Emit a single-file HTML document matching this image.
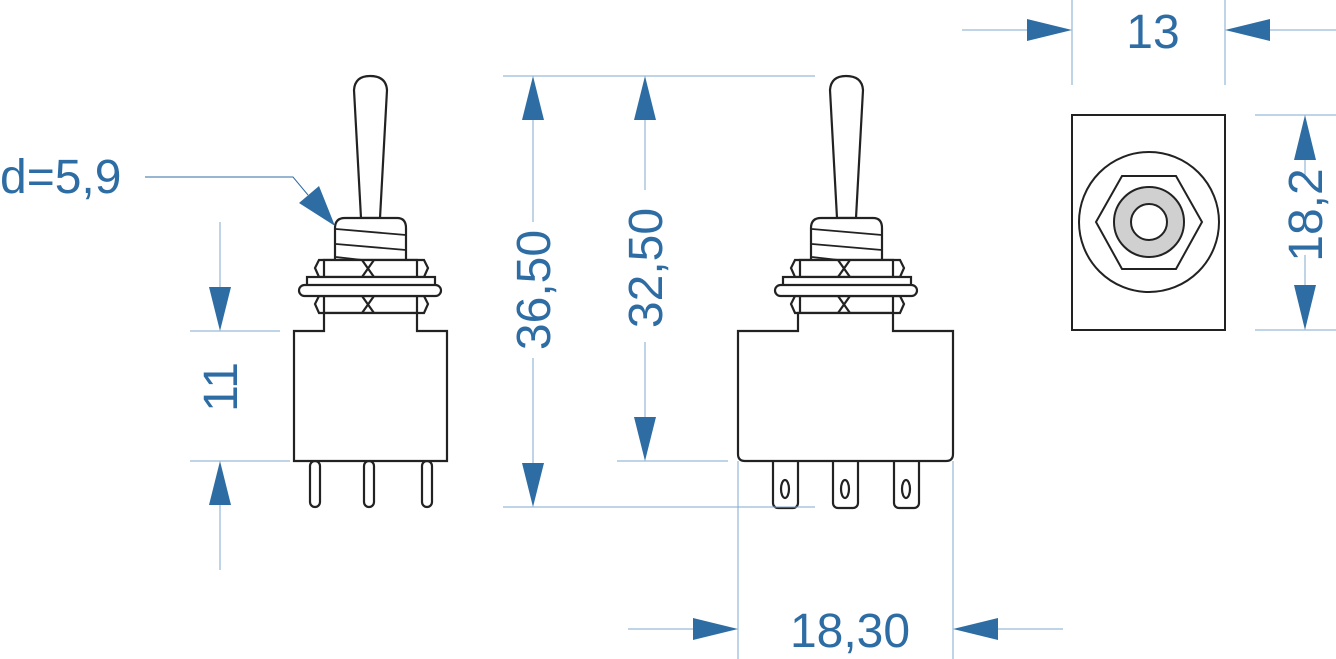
<!DOCTYPE html>
<html><head><meta charset="utf-8"><style>html,body{margin:0;padding:0;background:#fff}svg{display:block}</style></head><body>
<svg width="1336" height="659" viewBox="0 0 1336 659" xmlns="http://www.w3.org/2000/svg" font-family="Liberation Sans, sans-serif">
<defs>
<g id="sw" fill="#fff" stroke="#222" stroke-width="2.2">
  <path d="M361 218 L354 90 Q355 76 370 76 Q386 76 387 90 L380 218 Z"/>
  <path d="M335 262 L335 228 Q335 218 345 218 L397 218 Q406 218 406 228 L406 262 Z"/>
  <path d="M336 229 L406 235 M336 244 L406 250 M336 257 L380 262" fill="none" stroke-width="1.8"/>
  <path d="M324 313 L324 260 L417 260 L417 313 Z"/>
  <path d="M319 260 L424 260 L428 268 L424 277 L319 277 L315 268 Z"/>
  <path d="M319 296 L424 296 L428 304 L424 313 L319 313 L315 304 Z"/>
  <path d="M324 260 V277 M417 260 V277 M324 296 V313 M417 296 V313 M362 260 L374 277 M374 260 L362 277 M362 296 L374 313 M374 296 L362 313" fill="none"/>
  <rect x="307" y="277" width="128" height="9"/>
  <rect x="299" y="285" width="142" height="11" rx="5.5"/>
</g>
</defs>
<use href="#sw"/>
<g fill="#fff" stroke="#222" stroke-width="2.2">
  <rect x="310" y="461" width="10" height="46" rx="5"/>
  <rect x="364" y="461" width="10" height="46" rx="5"/>
  <rect x="422" y="461" width="10" height="46" rx="5"/>
  <path d="M294 461 V331 H324 V313 H417 V331 H447 V461 Z"/>
</g>
<g transform="translate(476,0)"><use href="#sw"/></g>
<g fill="#fff" stroke="#222" stroke-width="2.2">
  <rect x="773" y="450" width="25" height="58" rx="5"/>
  <rect x="833" y="450" width="25" height="58" rx="5"/>
  <rect x="894" y="450" width="25" height="58" rx="5"/>
  <ellipse cx="785" cy="489" rx="4" ry="9"/>
  <ellipse cx="845" cy="489" rx="4" ry="9"/>
  <ellipse cx="906" cy="489" rx="4" ry="9"/>
  <path d="M738 331 H798 V313 H893 V331 H953 V454 Q953 461 946 461 H745 Q738 461 738 454 Z"/>
</g>
<g stroke="#222" stroke-width="2" fill="#fff">
  <rect x="1072" y="115" width="153" height="215"/>
  <circle cx="1149" cy="222" r="70"/>
  <polygon points="1096,222 1122,176 1176,176 1202,222 1176,269 1122,269"/>
  <circle cx="1149" cy="222" r="35" fill="#d0d0d0"/>
  <circle cx="1149" cy="222" r="18"/>
</g>
<g stroke="#7fa9cf" stroke-width="1" fill="none">
  <path d="M1072 0 V85 M1225 0 V85 M962 30 H1030 M1270 30 H1336"/>
  <path d="M1255 115 H1336 M1255 330 H1336 M1305 160 V180 M1305 255 V285"/>
  <path d="M503 76 H815 M503 507 H815 M533 120 V222 M533 358 V463"/>
  <path d="M645 120 V190 M645 342 V417 M617 461 H728"/>
  <path d="M190 331 H280 M190 461 H290 M220 222 V287 M220 505 V570"/>
  <path d="M738 461 V659 M953 461 V659 M628 629 H693 M998 629 H1063"/>
</g>
<path d="M145 177 H293 L308 195" stroke="#2e6da4" stroke-width="1" fill="none"/>
<g fill="#2e6da4">
  <polygon points="1072,30 1027,19 1027,41"/>
  <polygon points="1225,30 1270,19 1270,41"/>
  <polygon points="1305,115 1294,160 1316,160"/>
  <polygon points="1305,330 1294,285 1316,285"/>
  <polygon points="533,76 522,120 544,120"/>
  <polygon points="533,507 522,463 544,463"/>
  <polygon points="645,76 634,120 656,120"/>
  <polygon points="645,461 634,417 656,417"/>
  <polygon points="220,331 209,287 231,287"/>
  <polygon points="220,461 209,505 231,505"/>
  <polygon points="738,629 693,618 693,640"/>
  <polygon points="953,629 998,618 998,640"/>
  <polygon points="335,226 299,203 319,186"/>
</g>
<g fill="#2e6da4" font-size="48">
  <text x="1153" y="48" text-anchor="middle">13</text>
  <text x="850" y="647" text-anchor="middle">18,30</text>
  <text x="0" y="193">d=5,9</text>
  <text transform="translate(1322,215) rotate(-90)" text-anchor="middle">18,2</text>
  <text transform="translate(550,290) rotate(-90)" text-anchor="middle">36,50</text>
  <text transform="translate(662,268) rotate(-90)" text-anchor="middle">32,50</text>
  <text transform="translate(237,387) rotate(-90)" text-anchor="middle">11</text>
</g>
</svg>
</body></html>
